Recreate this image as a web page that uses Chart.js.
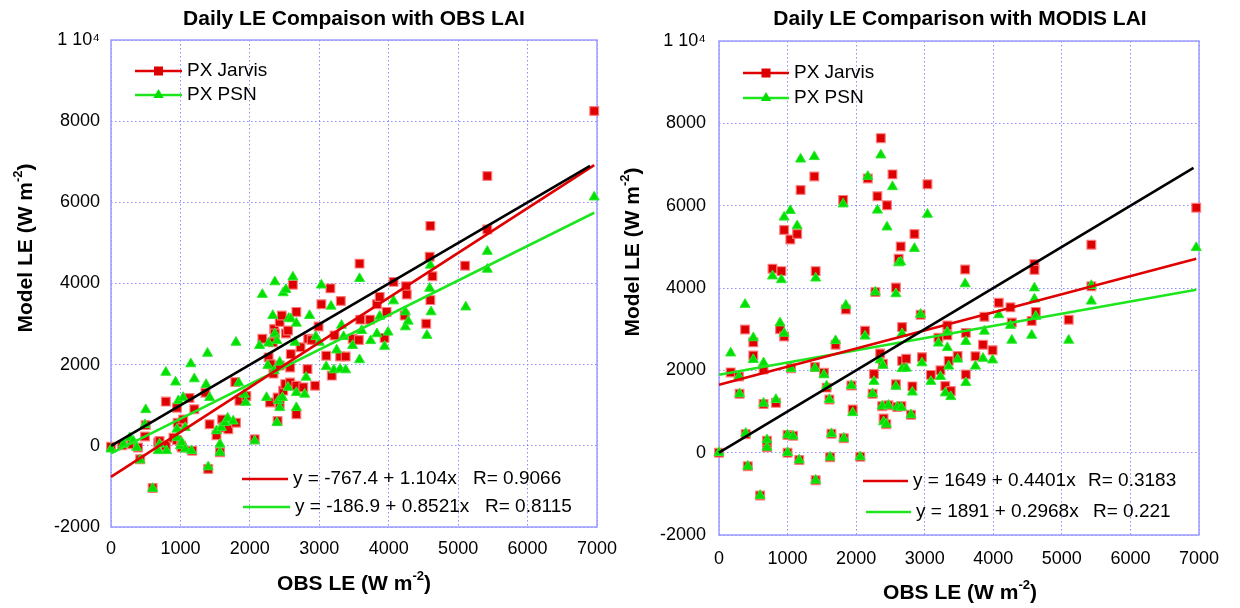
<!DOCTYPE html>
<html>
<head>
<meta charset="utf-8">
<script src="https://cdn.jsdelivr.net/npm/chart.js@4.4.1/dist/chart.umd.min.js"></script>
<style>
  body { margin: 0; background: #fff; }
  #wrap { position: relative; width: 1240px; height: 608px; overflow: hidden; background: #fff; }
  canvas { position: absolute; top: 0; }
</style>
</head>
<body>
<div id="wrap">
  <canvas id="leftChart" width="620" height="608" style="left:0"></canvas>
  <canvas id="rightChart" width="620" height="608" style="left:620px"></canvas>
</div>
<script>
// ---- data ----
// left panel: model LE with OBS LAI
const leftJarvisX = [0,160,300,390,420,490,500,600,680,700, 790,790,900,950,950,960,1010,1020,1040,1130,
  1170,1200,1360,1420,1400,1520,1570,1600,1620,1690, 1790,1800,1850,1950,2070,2180,2270,2300,2290,2330,
  2340,2350,2360,2400,2400,2430,2430,2430,2460,2480, 2510,2520,2550,2580,2580,2590,2620,2670,2670,2670,
  2730,2770,2830,2840,2890,2940,2990,3030,3100,3160, 3180,3220,3300,3310,3380,3480,3570,3580,3590,3730,
  3830,3870,3940,3970,4070,4230,4250,4260,4540,4590, 4600,4600,4630,5100,5420,5420,6960];
const leftJarvisY = [-25,15,40,-40,-330,230,510,-1040,80,120, 0,1090,200,940,140,570,0,-40,650,1180,
  -120,900,1310,530,-570,260,-160,650,450,410, 1570,570,1110,1230,160,2640,2180,2010,1070,2550,
  1780,2880,2770,1190,610,3050,1030,1980,3210,1360, 1520,2770,2840,1560,1930,2260,3970,3300,1480,780,
  2430,1440,1890,2640,2610,1480,2940,3490,2220,3880, 1730,2720,2200,3570,2200,2640,2610,4490,3110,3110,
  3490,3670,2660,3300,4040,3210,3930,3730,3010,4660, 3590,5420,4180,4440,6650,5330,8250];
const leftPsnX = [0,180,270,320,370,420,490,500,600,680, 700,790,800,930,950,950,970,1000,1020,1040,
  1070,1070,1150,1160,1200,1370,1390,1400,1420,1520, 1570,1570,1590,1640,1680,1760,1800,1840,1920,1940,
  2070,2140,2180,2240,2260,2270,2330,2350,2360,2360, 2390,2390,2410,2430,2430,2470,2480,2520,2550,2560,
  2590,2620,2650,2670,2670,2670,2790,2810,2860,2950, 3000,3030,3100,3170,3210,3250,3300,3320,3350,3380,
  3480,3580,3580,3610,3740,3830,3870,3940,3990,4070, 4240,4240,4280,4550,4590,4600,4610,5110,5420,5420,
  6960];
const leftPsnY = [-80,40,200,120,-40,-350,520,890,-1050,-120, 40,1810,-120,1570,200,410,1110,0,80,1190,
  450,-80,2020,-120,1650,1510,2280,-520,1190,370, -160,40,450,570,680,610,2550,1550,1270,1070,
  120,2470,3730,1190,1980,2530,3210,1850,4040,2760, 2590,570,1110,2060,940,1190,3770,3850,1440,3140,
  3130,4160,2550,3020,1310,940,1270,1690,3210,2690, 2550,3960,1950,3440,1870,2360,1890,2970,2690,1870,
  2470,4120,2120,2840,2590,2760,3190,2450,2800,3570, 3300,2930,3070,2720,3880,4450,3300,3420,4790,4350,
  6130];
const leftOneX = [0, 6900];
const leftOneY = [0, 6900];
const leftFitX = [0, 6960];
const leftJarvisFitY = [-767, 6917];
const leftPsnFitY = [-187, 5744];

// right panel: model LE with MODIS LAI
const rightObs = [0,170,290,300,380,390,420,500,500,600, 650,650,700,700,830,780,910,890,950,950,
  1000,1000,1080,1040,1050,1140,1170,1190,1390,1410, 1410,1400,1530,1570,1610,1620,1640,1700,1810,1820,
  1850,1930,1950,2060,2130,2170,2240,2260,2280,2310, 2360,2350,2390,2400,2440,2450,2380,2470,2530,2580,
  2580,2600,2620,2650,2660,2670,2670,2730,2800,2820, 2850,2940,2960,3040,3090,3200,3230,3300,3330,3330,
  3350,3380,3480,3590,3600,3600,3740,3850,3870,3990, 4080,4250,4270,4560,4600,4600,4620,5100,5430,5430,
  6960];
const rightJarvis = [0,1950,1850,1430,2990,450,-330,2680,2360,-1040, 2020,1180,130,290,1210,4470,4410,3000,2820,5410,
  0,430,410,5180,2050,5310,-180,6380,6710,4410, -670,2080,1940,1580,1290,-110,460,2620,6140,350,
  3480,1630,1050,-100,2960,6660,1430,1910,3900,6230, 7640,2410,2160,830,690,6010,1130,1150,6760,4010,
  1660,1110,4710,5010,1130,3050,2230,2280,920,1610, 5310,3350,2320,6520,1890,2790,2000,1620,3090,2850,
  2230,1500,2350,4450,2910,1900,2340,2620,3300,2490, 3640,3530,3160,3200,4580,4440,3420,3230,5050,4040,
  5950];
const rightPsn = [0,2420,1850,1430,3600,470,-330,2790,2260,-1040, 2180,1200,130,310,1290,4290,4200,3150,2900,5720,
  0,430,400,5880,2040,5510,-180,7130,7190,4240, -670,2050,1890,1620,1290,-110,460,2720,6040,350,
  3580,1630,970,-100,2830,6710,1430,1730,3900,5890, 7230,2250,2120,750,690,5480,1130,1150,6460,3860,
  1610,1110,4610,4630,1100,2890,2040,2050,920,1470, 4960,3360,2180,5790,1730,2660,1850,1450,2930,2550,
  2100,1360,2270,4100,2700,1700,2100,2290,2950,2250, 3350,3090,2730,2850,4000,3730,3310,2730,3680,4060,
  4980];
const rightOneX = [0, 6920];
const rightOneY = [0, 6920];
const rightFitX = [0, 6960];
const rightJarvisFitY = [1649, 4712];
const rightPsnFitY = [1891, 3957];

const xTicksStep = 1000;
const yTicksStep = 2000;

// ---- look ----
const FONT = '"Liberation Sans", Arial, Helvetica, sans-serif';
const RED = '#e00000';
const GREEN = '#1ee61e';
const FRAME = '#9c9cff';
const GRID = 'rgba(120,120,255,0.85)';

Chart.defaults.font.family = FONT;
Chart.defaults.color = '#000';

function pts(xs, ys) {
  return xs.map((x, i) => ({ x: x, y: ys[i] }));
}

// draws text made of pieces, some of them superscript
function drawParts(ctx, parts, x, y, size, bold, align) {
  const f = (sz) => (bold ? 'bold ' : '') + sz + 'px ' + FONT;
  let total = 0;
  parts.forEach(p => {
    ctx.font = f(p[1] ? size * 0.62 : size);
    total += ctx.measureText(p[0]).width;
  });
  let cx = align === 'center' ? x - total / 2 : x;
  ctx.textAlign = 'left';
  ctx.textBaseline = 'middle';
  parts.forEach(p => {
    const sz = p[1] ? size * 0.62 : size;
    ctx.font = f(sz);
    ctx.fillText(p[0], cx, p[1] ? y - size * 0.36 : y);
    cx += ctx.measureText(p[0]).width;
  });
}

function square(ctx, x, y, s) {
  ctx.fillStyle = '#dd0000';
  ctx.fillRect(x - s / 2, y - s / 2, s, s);
}

function triangle(ctx, x, y, r) {
  ctx.fillStyle = '#00e000';
  ctx.beginPath();
  ctx.moveTo(x, y - r);
  ctx.lineTo(x + r * 0.87, y + r * 0.5);
  ctx.lineTo(x - r * 0.87, y + r * 0.5);
  ctx.closePath();
  ctx.fill();
}

function seg(ctx, x1, x2, y, color) {
  ctx.strokeStyle = color;
  ctx.lineWidth = 2.5;
  ctx.beginPath();
  ctx.moveTo(x1, y);
  ctx.lineTo(x2, y);
  ctx.stroke();
}

function makeDeco(s) {
  return {
    id: 'deco',
    beforeDatasetsDraw(chart) {
      const a = chart.chartArea, ctx = chart.ctx;
      ctx.save();
      ctx.strokeStyle = FRAME;
      ctx.lineWidth = 1.5;
      ctx.strokeRect(a.left, a.top, a.right - a.left, a.bottom - a.top);
      ctx.restore();
    },
    afterDraw(chart) {
      const ctx = chart.ctx;
      ctx.save();
      ctx.fillStyle = '#000';
      drawParts(ctx, [[s.title]], s.titleX, s.titleY, 21, true, 'center');
      drawParts(ctx, [['OBS LE (W m'], ['-2', true], [')']], s.xTitleX, s.xTitleY, 21, true, 'center');
      ctx.save();
      ctx.translate(s.yTitleX, s.yTitleY);
      ctx.rotate(-Math.PI / 2);
      ctx.fillStyle = '#000';
      drawParts(ctx, [['Model LE (W m'], ['-2', true], [')']], 0, 0, 21, true, 'center');
      ctx.restore();

      // series legend, top left
      const lx = s.legLine, mid = (lx[0] + lx[1]) / 2;
      seg(ctx, lx[0], lx[1], s.legY[0], RED);
      square(ctx, mid, s.legY[0], 9);
      seg(ctx, lx[0], lx[1], s.legY[1], GREEN);
      triangle(ctx, mid, s.legY[1], 6);
      ctx.fillStyle = '#000';
      drawParts(ctx, [['PX Jarvis']], s.legText, s.legY[0], 19, false, 'left');
      drawParts(ctx, [['PX PSN']], s.legText, s.legY[1], 19, false, 'left');

      // fit equations, bottom right
      s.eqs.forEach(e => {
        seg(ctx, e.x1, e.x2, e.y, e.color);
        ctx.fillStyle = '#000';
        drawParts(ctx, [[e.text]], e.tx, e.y, 19, false, 'left');
        drawParts(ctx, [[e.r]], e.rx, e.y, 19, false, 'left');
      });
      ctx.restore();
    }
  };
}

function makeChart(id, d, s) {
  const lineDs = (xs, ys, color) => ({
    data: pts(xs, ys), showLine: true, borderColor: color, borderWidth: 2.6,
    pointRadius: 0, order: 0, clip: false
  });
  return new Chart(document.getElementById(id), {
    type: 'scatter',
    data: {
      datasets: [
        lineDs(d.oneX, d.oneY, '#000'),
        lineDs(d.fitX, d.jarvisFitY, RED),
        lineDs(d.fitX, d.psnFitY, GREEN),
        {
          label: 'PX PSN', data: pts(d.psnX, d.psnY), pointStyle: 'triangle',
          pointRadius: 5.8, backgroundColor: '#00e000', borderColor: '#2ee82e', borderWidth: 1,
          order: 1, clip: false
        },
        {
          label: 'PX Jarvis', data: pts(d.jarvisX, d.jarvisY), pointStyle: 'rect',
          pointRadius: 6.2, backgroundColor: '#dd0000', borderColor: 'rgba(255,120,120,0.9)', borderWidth: 1.2,
          order: 2, clip: false
        }
      ]
    },
    options: {
      responsive: false,
      animation: false,
      devicePixelRatio: 1,
      layout: { padding: s.pad },
      plugins: { legend: { display: false }, tooltip: { enabled: false } },
      scales: {
        x: {
          type: 'linear', min: 0, max: 7000,
          afterFit: (sc) => { sc.height = s.xH; sc.paddingLeft = 0; sc.paddingRight = 0; },
          ticks: {
            stepSize: xTicksStep, maxRotation: 0, padding: s.xPad, font: { size: 18 }, color: '#000',
            callback: (v) => String(v)
          },
          grid: { color: GRID, lineWidth: 1, drawTicks: false },
          border: { display: false, dash: [1.5, 2.5] }
        },
        y: {
          type: 'linear', min: -2000, max: 10000,
          afterFit: (sc) => { sc.width = s.yW; sc.paddingTop = 0; sc.paddingBottom = 0; },
          ticks: {
            stepSize: yTicksStep, padding: s.yPad, font: { size: 18 }, color: '#000',
            callback: (v) => (v === 10000 ? '1 10\u2074' : String(v))
          },
          grid: { color: GRID, lineWidth: 1, drawTicks: false },
          border: { display: false, dash: [1.5, 2.5] }
        }
      }
    },
    plugins: [makeDeco(s)]
  });
}

makeChart('leftChart', {
  jarvisX: leftJarvisX, jarvisY: leftJarvisY, psnX: leftPsnX, psnY: leftPsnY,
  oneX: leftOneX, oneY: leftOneY, fitX: leftFitX, jarvisFitY: leftJarvisFitY, psnFitY: leftPsnFitY
}, {
  pad: { left: 0, top: 40, right: 23, bottom: 0 }, yW: 111, xH: 81, xPad: 11, yPad: 11,
  title: 'Daily LE Compaison with OBS LAI', titleX: 354, titleY: 19,
  xTitleX: 354, xTitleY: 584, yTitleX: 26, yTitleY: 248,
  legLine: [135, 182], legText: 187, legY: [71, 95],
  eqs: [
    { x1: 242, x2: 288, y: 479, tx: 293, rx: 473, color: RED, text: 'y = -767.4 + 1.104x', r: 'R= 0.9066' },
    { x1: 243, x2: 290, y: 507, tx: 295, rx: 485, color: GREEN, text: 'y = -186.9 + 0.8521x', r: 'R= 0.8115' }
  ]
});

makeChart('rightChart', {
  jarvisX: rightObs, jarvisY: rightJarvis, psnX: rightObs, psnY: rightPsn,
  oneX: rightOneX, oneY: rightOneY, fitX: rightFitX, jarvisFitY: rightJarvisFitY, psnFitY: rightPsnFitY
}, {
  pad: { left: 0, top: 41, right: 41, bottom: 0 }, yW: 99, xH: 73, xPad: 13, yPad: 13,
  title: 'Daily LE Comparison with MODIS LAI', titleX: 340, titleY: 19,
  xTitleX: 340, xTitleY: 593, yTitleX: 13, yTitleY: 252,
  legLine: [123, 169], legText: 174, legY: [73, 98],
  eqs: [
    { x1: 243, x2: 288, y: 481, tx: 293, rx: 468, color: RED, text: 'y = 1649 + 0.4401x', r: 'R= 0.3183' },
    { x1: 246, x2: 291, y: 512, tx: 296, rx: 473, color: GREEN, text: 'y = 1891 + 0.2968x', r: 'R= 0.221' }
  ]
});
</script>
</body>
</html>
